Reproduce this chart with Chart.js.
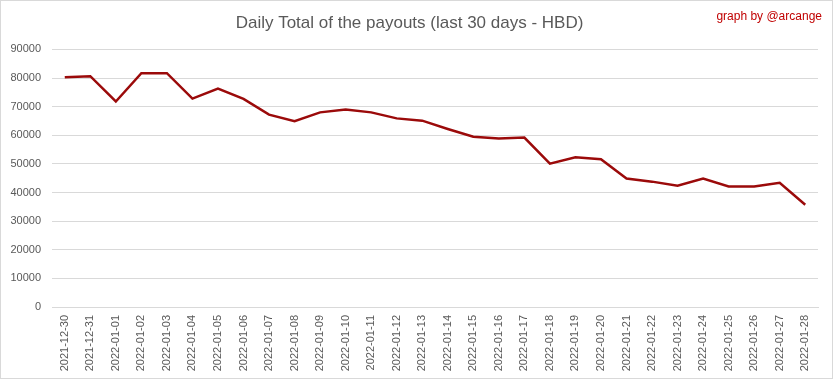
<!DOCTYPE html>
<html>
<head>
<meta charset="utf-8">
<script src="https://cdn.jsdelivr.net/npm/chart.js@4/dist/chart.umd.min.js"></script>
<style>
  body { margin: 0; background: #fff; }
  .wrap { position: relative; width: 831px; height: 377px; border: 1px solid #d9d9d9; }
  .credit {
    position: absolute; right: 10px; top: 8px;
    font: 12px "Liberation Sans", sans-serif; color: #c00000;
  }
</style>
</head>
<body>
<div class="wrap">
  <canvas id="payouts" width="831" height="377"></canvas>
  <div class="credit">graph by @arcange</div>
</div>
<script>
// dates (last 30 days)
const days = [
  '2021-12-30', '2021-12-31', '2022-01-01', '2022-01-02', '2022-01-03',
  '2022-01-04', '2022-01-05', '2022-01-06', '2022-01-07', '2022-01-08',
  '2022-01-09', '2022-01-10', '2022-01-11', '2022-01-12', '2022-01-13',
  '2022-01-14', '2022-01-15', '2022-01-16', '2022-01-17', '2022-01-18',
  '2022-01-19', '2022-01-20', '2022-01-21', '2022-01-22', '2022-01-23',
  '2022-01-24', '2022-01-25', '2022-01-26', '2022-01-27', '2022-01-28'
];
// daily total payouts in HBD
const payouts = [
  80300, 80650, 71800, 81700, 81700, 72800, 76300, 72700, 67200, 64900,
  68000, 69000, 68000, 65900, 65100, 62200, 59500, 58900, 59200, 50100,
  52300, 51600, 44900, 43800, 42400, 44900, 42100, 42100, 43400, 35700
];
const yMax = 90000;
const yStep = 10000;

const font = '"Liberation Sans", sans-serif';
const ctx = document.getElementById('payouts').getContext('2d');
new Chart(ctx, {
  type: 'line',
  data: {
    labels: days,
    datasets: [{
      data: payouts,
      borderColor: '#9b0a0a',
      borderWidth: 2.5,
      pointRadius: 0,
      tension: 0,
      fill: false
    }]
  },
  options: {
    responsive: false,
    animation: false,
    layout: { padding: { right: 14 } },
    plugins: {
      legend: { display: false },
      tooltip: { enabled: false },
      title: {
        display: true,
        text: 'Daily Total of the payouts (last 30 days - HBD)',
        color: '#595959',
        font: { family: font, size: 17, weight: 'normal' },
        padding: { top: 12, bottom: 16 }
      }
    },
    scales: {
      x: {
        offset: true,
        grid: { display: false, drawTicks: false },
        border: { color: '#d9d9d9' },
        ticks: {
          autoSkip: false, minRotation: 90, maxRotation: 90,
          color: '#595959', padding: 8,
          font: { family: font, size: 11 }
        },
        afterFit: s => { s.height = 71; }
      },
      y: {
        min: 0, max: yMax,
        grid: { color: '#d9d9d9', drawTicks: false },
        border: { display: false },
        ticks: {
          stepSize: yStep, color: '#595959', padding: 11,
          font: { family: font, size: 11 },
          callback: v => String(v)
        },
        afterFit: s => { s.width = 51; }
      }
    }
  }
});
</script>
</body>
</html>
